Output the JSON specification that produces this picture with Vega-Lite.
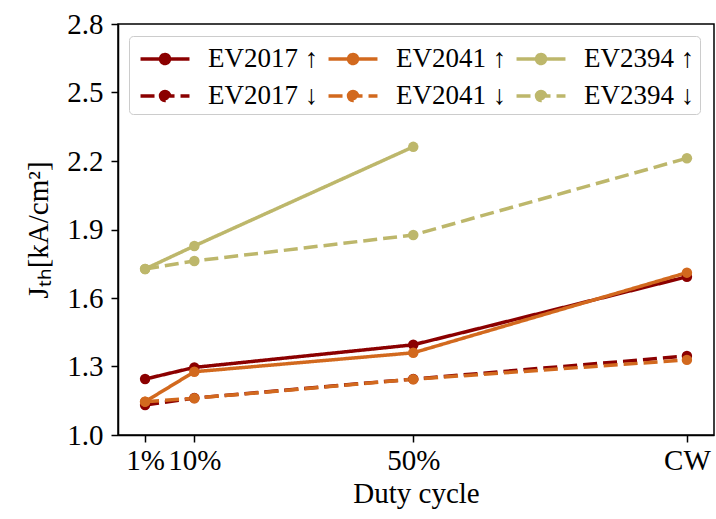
{
  "$schema": "https://vega.github.io/schema/vega-lite/v6.json",
  "width": 596,
  "height": 411,
  "autosize": "none",
  "padding": {"left": 118, "top": 24, "right": 2, "bottom": 84},
  "background": "white",
  "config": {
    "font": "Liberation Serif",
    "view": {"stroke": "black", "strokeWidth": 1.5},
    "axis": {
      "domainColor": "black", "domainWidth": 1.5, "tickColor": "black", "tickWidth": 1.5, "tickSize": 7,
      "labelFont": "Liberation Serif", "labelFontSize": 29, "labelColor": "black",
      "titleFont": "Liberation Serif", "titleFontSize": 29, "titleFontWeight": "normal", "titleColor": "black",
      "grid": false, "labelOverlap": false, "labelBound": false, "labelFlush": false
    }
  },
  "data": {
    "values": [
      {"series": "EV2017 ↑", "duty": 1, "J": 1.245},
      {"series": "EV2017 ↑", "duty": 10, "J": 1.296},
      {"series": "EV2017 ↑", "duty": 50, "J": 1.395},
      {"series": "EV2017 ↑", "duty": 100, "J": 1.693},
      {"series": "EV2017 ↓", "duty": 1, "J": 1.131},
      {"series": "EV2017 ↓", "duty": 10, "J": 1.162},
      {"series": "EV2017 ↓", "duty": 50, "J": 1.245},
      {"series": "EV2017 ↓", "duty": 100, "J": 1.346},
      {"series": "EV2041 ↑", "duty": 1, "J": 1.146},
      {"series": "EV2041 ↑", "duty": 10, "J": 1.277},
      {"series": "EV2041 ↑", "duty": 50, "J": 1.36},
      {"series": "EV2041 ↑", "duty": 100, "J": 1.711},
      {"series": "EV2041 ↓", "duty": 1, "J": 1.146},
      {"series": "EV2041 ↓", "duty": 10, "J": 1.161},
      {"series": "EV2041 ↓", "duty": 50, "J": 1.244},
      {"series": "EV2041 ↓", "duty": 100, "J": 1.329},
      {"series": "EV2394 ↑", "duty": 1, "J": 1.727},
      {"series": "EV2394 ↑", "duty": 10, "J": 1.828},
      {"series": "EV2394 ↑", "duty": 50, "J": 2.262},
      {"series": "EV2394 ↓", "duty": 1, "J": 1.727},
      {"series": "EV2394 ↓", "duty": 10, "J": 1.762},
      {"series": "EV2394 ↓", "duty": 50, "J": 1.876},
      {"series": "EV2394 ↓", "duty": 100, "J": 2.212}
    ]
  },
  "mark": {"type": "line", "strokeWidth": 3.5, "point": {"filled": true, "size": 110, "opacity": 1}},
  "encoding": {
    "x": {
      "field": "duty", "type": "quantitative",
      "scale": {"domain": [-3.95, 104.95], "nice": false, "zero": false},
      "axis": {"values": [1, 10, 50, 100], "labelExpr": "datum.value == 100 ? 'CW' : datum.value + '%'", "title": "Duty cycle", "labelPadding": 4, "titlePadding": 4}
    },
    "y": {
      "field": "J", "type": "quantitative",
      "scale": {"domain": [1.0, 2.8], "nice": false, "zero": false},
      "axis": {"values": [1.0, 1.3, 1.6, 1.9, 2.2, 2.5, 2.8], "format": ".1f", "title": "Jₜₕ[kA/cm²]", "labelPadding": 8, "titlePadding": 13}
    },
    "color": {
      "field": "series", "type": "nominal",
      "scale": {
        "domain": ["EV2017 ↑", "EV2041 ↑", "EV2394 ↑", "EV2017 ↓", "EV2041 ↓", "EV2394 ↓"],
        "range": ["#8b0000", "#d2691e", "#bdb76b", "#8b0000", "#d2691e", "#bdb76b"]
      },
      "legend": {
        "title": null, "orient": "none", "legendX": 11, "legendY": 12, "columns": 3,
        "direction": "horizontal",
        "symbolType": "M-1.53,0L1.53,0M-0.28,0A0.28,0.28,0,1,1,0.28,0A0.28,0.28,0,1,1,-0.28,0Z",
        "symbolSize": 1024, "symbolStrokeWidth": 3.5, "symbolOffset": 13,
        "labelFont": "Liberation Serif", "labelFontSize": 27, "labelColor": "black", "labelOffset": 25,
        "columnPadding": 2, "rowPadding": 6, "padding": 5,
        "strokeColor": "#cccccc", "fillColor": "white", "cornerRadius": 4,
        "encode": {"symbols": {"update": {"fill": {"scale": "color", "field": "value"}, "fillOpacity": {"value": 1}}}}
      }
    },
    "strokeDash": {
      "field": "series", "type": "nominal",
      "scale": {
        "domain": ["EV2017 ↑", "EV2041 ↑", "EV2394 ↑", "EV2017 ↓", "EV2041 ↓", "EV2394 ↓"],
        "range": [[1, 0], [1, 0], [1, 0], [14, 6], [14, 6], [14, 6]]
      }
    }
  }
}
